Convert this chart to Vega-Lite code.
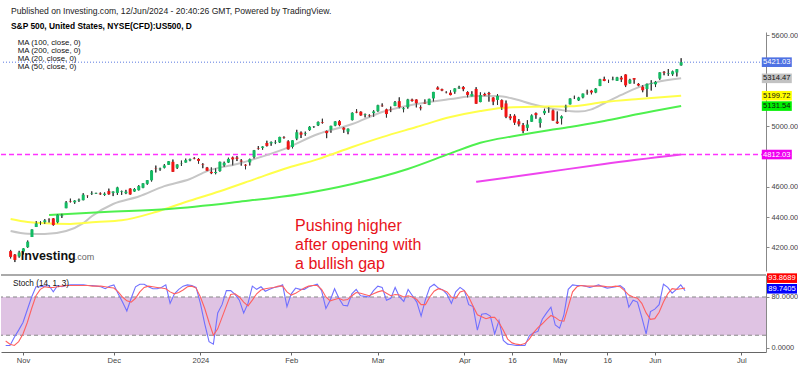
{
"$schema":"https://vega.github.io/schema/vega-lite/v6.json",
"padding":{"left":0,"top":7,"right":0,"bottom":0},
"background":"white",
"spacing":0,
"title":{"text":"Published on Investing.com, 12/Jun/2024 - 20:40:26 GMT, Powered by TradingView.","subtitle":"S&P 500, United States, NYSE(CFD):US500, D","anchor":"start","frame":"bounds","dx":11,"font":"Liberation Sans","fontSize":8.6,"fontWeight":"normal","color":"#222","subtitleFont":"Liberation Sans","subtitleFontSize":8.4,"subtitleFontWeight":"bold","subtitleColor":"#000","subtitlePadding":6,"offset":1},
"config":{"view":{"stroke":null},"font":"Liberation Sans","axis":{"domainColor":"#888","tickColor":"#888","labelColor":"#444","labelFontSize":7.4,"labelFont":"Liberation Sans","tickSize":3,"labelPadding":2,"grid":false}},
"datasets":{
"one":[{}],
"candles":[
{"i":-4,"o":4175,"h":4183,"l":4127,"c":4137},{"i":-3,"o":4152,"h":4156,"l":4103,"c":4117},{"i":-2,"o":4140,"h":4177,"l":4132,"c":4166},{"i":-1,"o":4172,"h":4194,"l":4153,"c":4193},
{"i":0,"o":4201,"h":4245,"l":4197,"c":4237},{"i":1,"o":4268,"h":4319,"l":4268,"c":4317},{"i":2,"o":4334,"h":4373,"l":4334,"c":4358},{"i":3,"o":4365,"h":4372,"l":4347,"c":4366},{"i":4,"o":4366,"h":4386,"l":4354,"c":4378},{"i":5,"o":4384,"h":4391,"l":4363,"c":4383},{"i":6,"o":4391,"h":4393,"l":4343,"c":4347},{"i":7,"o":4365,"h":4418,"l":4358,"c":4415},{"i":8,"o":4406,"h":4421,"l":4394,"c":4411},{"i":9,"o":4458,"h":4505,"l":4458,"c":4496},
{"i":10,"o":4505,"h":4521,"l":4496,"c":4502},{"i":11,"o":4497,"h":4511,"l":4487,"c":4508},{"i":12,"o":4509,"h":4521,"l":4500,"c":4514},{"i":13,"o":4511,"h":4557,"l":4510,"c":4547},{"i":14,"o":4540,"h":4542,"l":4526,"c":4538},{"i":15,"o":4553,"h":4569,"l":4546,"c":4556},{"i":16,"o":4555,"h":4560,"l":4552,"c":4559},{"i":17,"o":4555,"h":4562,"l":4546,"c":4550},{"i":18,"o":4546,"h":4562,"l":4540,"c":4554},{"i":19,"o":4571,"h":4587,"l":4547,"c":4550},
{"i":20,"o":4559,"h":4569,"l":4538,"c":4568},{"i":21,"o":4559,"h":4599,"l":4546,"c":4595},{"i":22,"o":4565,"h":4574,"l":4546,"c":4569},{"i":23,"o":4557,"h":4579,"l":4551,"c":4567},{"i":24,"o":4587,"h":4590,"l":4547,"c":4549},{"i":25,"o":4568,"h":4591,"l":4566,"c":4585},{"i":26,"o":4577,"h":4610,"l":4575,"c":4604},{"i":27,"o":4593,"h":4623,"l":4590,"c":4622},{"i":28,"o":4619,"h":4644,"l":4613,"c":4643},{"i":29,"o":4642,"h":4709,"l":4634,"c":4707},
{"i":30,"o":4722,"h":4739,"l":4694,"c":4720},{"i":31,"o":4715,"h":4725,"l":4705,"c":4719},{"i":32,"o":4725,"h":4749,"l":4721,"c":4740},{"i":33,"o":4744,"h":4769,"l":4744,"c":4768},{"i":34,"o":4764,"h":4779,"l":4697,"c":4698},{"i":35,"o":4725,"h":4748,"l":4717,"c":4746},{"i":36,"o":4753,"h":4772,"l":4737,"c":4755},{"i":37,"o":4759,"h":4785,"l":4759,"c":4775},{"i":38,"o":4774,"h":4785,"l":4768,"c":4781},{"i":39,"o":4786,"h":4794,"l":4781,"c":4783},
{"i":40,"o":4783,"h":4789,"l":4752,"c":4770},{"i":41,"o":4746,"h":4755,"l":4722,"c":4743},{"i":42,"o":4726,"h":4730,"l":4702,"c":4705},{"i":43,"o":4698,"h":4727,"l":4683,"c":4689},{"i":44,"o":4690,"h":4722,"l":4682,"c":4697},{"i":45,"o":4703,"h":4765,"l":4699,"c":4764},{"i":46,"o":4741,"h":4765,"l":4730,"c":4757},{"i":47,"o":4759,"h":4791,"l":4756,"c":4783},{"i":48,"o":4793,"h":4798,"l":4740,"c":4780},{"i":49,"o":4792,"h":4802,"l":4769,"c":4784},
{"i":50,"o":4772,"h":4782,"l":4739,"c":4766},{"i":51,"o":4745,"h":4748,"l":4715,"c":4739},{"i":52,"o":4760,"h":4785,"l":4740,"c":4781},{"i":53,"o":4796,"h":4842,"l":4785,"c":4840},{"i":54,"o":4853,"h":4868,"l":4844,"c":4850},{"i":55,"o":4856,"h":4866,"l":4844,"c":4865},{"i":56,"o":4888,"h":4903,"l":4865,"c":4869},{"i":57,"o":4886,"h":4898,"l":4870,"c":4894},{"i":58,"o":4888,"h":4906,"l":4881,"c":4891},{"i":59,"o":4892,"h":4929,"l":4888,"c":4928},
{"i":60,"o":4925,"h":4932,"l":4917,"c":4922},{"i":61,"o":4899,"h":4906,"l":4845,"c":4846},{"i":62,"o":4862,"h":4906,"l":4853,"c":4906},{"i":63,"o":4917,"h":4975,"l":4907,"c":4959},{"i":64,"o":4957,"h":4964,"l":4921,"c":4943},{"i":65,"o":4950,"h":4963,"l":4936,"c":4954},{"i":66,"o":4973,"h":4999,"l":4969,"c":4995},{"i":67,"o":4996,"h":5000,"l":4988,"c":4998},{"i":68,"o":5005,"h":5030,"l":5000,"c":5027},{"i":69,"o":5026,"h":5048,"l":5016,"c":5022},
{"i":70,"o":4967,"h":4971,"l":4920,"c":4953},{"i":71,"o":4976,"h":5002,"l":4956,"c":5001},{"i":72,"o":5003,"h":5032,"l":4999,"c":5030},{"i":73,"o":5032,"h":5039,"l":4999,"c":5006},{"i":74,"o":4989,"h":4994,"l":4955,"c":4976},{"i":75,"o":4963,"h":4984,"l":4946,"c":4982},{"i":76,"o":5039,"h":5090,"l":5037,"c":5087},{"i":77,"o":5094,"h":5111,"l":5085,"c":5089},{"i":78,"o":5094,"h":5097,"l":5068,"c":5070},{"i":79,"o":5074,"h":5082,"l":5057,"c":5078},
{"i":80,"o":5072,"h":5077,"l":5058,"c":5069},{"i":81,"o":5085,"h":5104,"l":5061,"c":5096},{"i":82,"o":5098,"h":5140,"l":5094,"c":5137},{"i":83,"o":5134,"h":5149,"l":5127,"c":5131},{"i":84,"o":5110,"h":5114,"l":5056,"c":5079},{"i":85,"o":5108,"h":5128,"l":5092,"c":5105},{"i":86,"o":5132,"h":5165,"l":5131,"c":5157},{"i":87,"o":5164,"h":5189,"l":5117,"c":5124},{"i":88,"o":5111,"h":5125,"l":5091,"c":5117},{"i":89,"o":5124,"h":5179,"l":5115,"c":5175},
{"i":90,"o":5174,"h":5180,"l":5161,"c":5165},{"i":91,"o":5175,"h":5176,"l":5123,"c":5150},{"i":92,"o":5123,"h":5136,"l":5104,"c":5117},{"i":93,"o":5154,"h":5175,"l":5146,"c":5149},{"i":94,"o":5139,"h":5180,"l":5138,"c":5179},{"i":95,"o":5182,"h":5225,"l":5161,"c":5225},{"i":96,"o":5254,"h":5261,"l":5240,"c":5241},{"i":97,"o":5243,"h":5246,"l":5230,"c":5234},{"i":98,"o":5219,"h":5229,"l":5216,"c":5218},{"i":99,"o":5220,"h":5235,"l":5203,"c":5204},
{"i":100,"o":5226,"h":5249,"l":5213,"c":5248},{"i":101,"o":5248,"h":5265,"l":5245,"c":5254},{"i":102,"o":5257,"h":5263,"l":5230,"c":5243},{"i":103,"o":5224,"h":5229,"l":5189,"c":5205},{"i":104,"o":5195,"h":5229,"l":5195,"c":5211},{"i":105,"o":5244,"h":5256,"l":5146,"c":5147},{"i":106,"o":5158,"h":5222,"l":5157,"c":5204},{"i":107,"o":5211,"h":5219,"l":5197,"c":5202},{"i":108,"o":5218,"h":5225,"l":5161,"c":5209},{"i":109,"o":5188,"h":5190,"l":5138,"c":5161},
{"i":110,"o":5172,"h":5211,"l":5139,"c":5199},{"i":111,"o":5171,"h":5175,"l":5107,"c":5123},{"i":112,"o":5149,"h":5168,"l":5052,"c":5061},{"i":113,"o":5064,"h":5079,"l":5039,"c":5051},{"i":114,"o":5068,"h":5077,"l":5007,"c":5022},{"i":115,"o":5031,"h":5046,"l":4998,"c":5011},{"i":116,"o":5006,"h":5020,"l":4953,"c":4967},{"i":117,"o":4988,"h":5038,"l":4968,"c":5010},{"i":118,"o":5028,"h":5076,"l":5028,"c":5070},{"i":119,"o":5085,"h":5089,"l":5048,"c":5072},
{"i":120,"o":5020,"h":5057,"l":4990,"c":5048},{"i":121,"o":5084,"h":5114,"l":5073,"c":5100},{"i":122,"o":5114,"h":5124,"l":5088,"c":5116},{"i":123,"o":5103,"h":5110,"l":5035,"c":5036},{"i":124,"o":5029,"h":5096,"l":5014,"c":5018},{"i":125,"o":5050,"h":5069,"l":5011,"c":5064},{"i":126,"o":5123,"h":5140,"l":5092,"c":5128},{"i":127,"o":5143,"h":5183,"l":5142,"c":5181},{"i":128,"o":5187,"h":5200,"l":5178,"c":5187},{"i":129,"o":5169,"h":5192,"l":5165,"c":5188},
{"i":130,"o":5189,"h":5214,"l":5183,"c":5214},{"i":131,"o":5225,"h":5239,"l":5207,"c":5223},{"i":132,"o":5233,"h":5238,"l":5209,"c":5221},{"i":133,"o":5221,"h":5250,"l":5217,"c":5247},{"i":134,"o":5264,"h":5311,"l":5263,"c":5308},{"i":135,"o":5310,"h":5325,"l":5296,"c":5297},{"i":136,"o":5303,"h":5305,"l":5284,"c":5303},{"i":137,"o":5306,"h":5325,"l":5302,"c":5308},{"i":138,"o":5298,"h":5324,"l":5297,"c":5321},{"i":139,"o":5319,"h":5330,"l":5290,"c":5307},
{"i":140,"o":5340,"h":5341,"l":5257,"c":5268},{"i":141,"o":5281,"h":5311,"l":5279,"c":5305},{"i":142,"o":5316,"h":5316,"l":5279,"c":5306},{"i":143,"o":5278,"h":5283,"l":5262,"c":5267},{"i":144,"o":5259,"h":5270,"l":5223,"c":5236},{"i":145,"o":5244,"h":5280,"l":5192,"c":5278},{"i":146,"o":5278,"h":5302,"l":5234,"c":5283},{"i":147,"o":5275,"h":5297,"l":5257,"c":5291},{"i":148,"o":5313,"h":5354,"l":5305,"c":5354},{"i":149,"o":5357,"h":5362,"l":5335,"c":5352},
{"i":150,"o":5343,"h":5376,"l":5331,"c":5347},{"i":151,"o":5341,"h":5365,"l":5331,"c":5361},{"i":152,"o":5353,"h":5376,"l":5327,"c":5375},{"i":153,"o":5400,"h":5447,"l":5398,"c":5421.03}
],
"ma":[
{"s":"ma20","i":-4,"v":4308},{"s":"ma20","i":0,"v":4290},{"s":"ma20","i":4,"v":4288},{"s":"ma20","i":9,"v":4308},{"s":"ma20","i":13,"v":4360},{"s":"ma20","i":15,"v":4405},{"s":"ma20","i":20,"v":4486},{"s":"ma20","i":26,"v":4535},{"s":"ma20","i":32,"v":4604},{"s":"ma20","i":38,"v":4651},{"s":"ma20","i":42,"v":4703},{"s":"ma20","i":49,"v":4749},{"s":"ma20","i":53,"v":4782},{"s":"ma20","i":60,"v":4848},{"s":"ma20","i":68,"v":4947},{"s":"ma20","i":76,"v":5013},{"s":"ma20","i":83,"v":5092},{"s":"ma20","i":91,"v":5145},{"s":"ma20","i":99,"v":5178},{"s":"ma20","i":105,"v":5198},{"s":"ma20","i":110,"v":5198},{"s":"ma20","i":114,"v":5178},{"s":"ma20","i":118,"v":5145},{"s":"ma20","i":122,"v":5119},{"s":"ma20","i":125,"v":5105},{"s":"ma20","i":129,"v":5095},{"s":"ma20","i":132,"v":5110},{"s":"ma20","i":135,"v":5150},{"s":"ma20","i":139,"v":5205},{"s":"ma20","i":143,"v":5255},{"s":"ma20","i":147,"v":5288},{"s":"ma20","i":153,"v":5314.47},
{"s":"ma50","i":-4,"v":4387},{"s":"ma50","i":0,"v":4367},{"s":"ma50","i":3,"v":4360},{"s":"ma50","i":10,"v":4354},{"s":"ma50","i":16,"v":4367},{"s":"ma50","i":22,"v":4378},{"s":"ma50","i":30,"v":4433},{"s":"ma50","i":37,"v":4499},{"s":"ma50","i":45,"v":4570},{"s":"ma50","i":53,"v":4648},{"s":"ma50","i":60,"v":4717},{"s":"ma50","i":68,"v":4782},{"s":"ma50","i":76,"v":4862},{"s":"ma50","i":83,"v":4927},{"s":"ma50","i":91,"v":4993},{"s":"ma50","i":99,"v":5059},{"s":"ma50","i":106,"v":5099},{"s":"ma50","i":111,"v":5119},{"s":"ma50","i":118,"v":5127},{"s":"ma50","i":122,"v":5128},{"s":"ma50","i":127,"v":5130},{"s":"ma50","i":135,"v":5158},{"s":"ma50","i":143,"v":5178},{"s":"ma50","i":153,"v":5199.72},
{"s":"ma100","i":5,"v":4413},{"s":"ma100","i":18,"v":4433},{"s":"ma100","i":33,"v":4453},{"s":"ma100","i":49,"v":4499},{"s":"ma100","i":64,"v":4552},{"s":"ma100","i":76,"v":4618},{"s":"ma100","i":89,"v":4717},{"s":"ma100","i":99,"v":4820},{"s":"ma100","i":106,"v":4890},{"s":"ma100","i":114,"v":4934},{"s":"ma100","i":122,"v":4972},{"s":"ma100","i":127,"v":4993},{"s":"ma100","i":135,"v":5033},{"s":"ma100","i":143,"v":5079},{"s":"ma100","i":153,"v":5131.54},
{"s":"ma200","i":105,"v":4632},{"s":"ma200","i":120,"v":4690},{"s":"ma200","i":135,"v":4750},{"s":"ma200","i":153,"v":4812.03}
],
"stoch":[
{"i":-4,"k":4,"d":11},{"i":-3,"k":4,"d":6},{"i":-2,"k":17,"d":4},{"i":-1,"k":28,"d":10},{"i":0,"k":40,"d":22},{"i":1,"k":60,"d":40},{"i":2,"k":80,"d":62},{"i":3,"k":96,"d":82},{"i":4,"k":96,"d":92},{"i":5,"k":97,"d":96},{"i":6,"k":98,"d":95},{"i":7,"k":88,"d":95},{"i":8,"k":98,"d":96},{"i":9,"k":96,"d":97},
{"i":10,"k":98,"d":98},{"i":11,"k":99,"d":98},{"i":12,"k":99,"d":98},{"i":13,"k":99,"d":98},{"i":14,"k":99,"d":98},{"i":15,"k":98,"d":98},{"i":16,"k":98,"d":97},{"i":17,"k":97,"d":97},{"i":18,"k":96,"d":97},{"i":19,"k":93,"d":96},
{"i":20,"k":97,"d":95},{"i":21,"k":99,"d":94},{"i":22,"k":85,"d":88},{"i":23,"k":72,"d":80},{"i":24,"k":58,"d":74},{"i":25,"k":78,"d":72},{"i":26,"k":96,"d":78},{"i":27,"k":100,"d":88},{"i":28,"k":100,"d":95},{"i":29,"k":96,"d":97},
{"i":30,"k":93,"d":96},{"i":31,"k":93,"d":95},{"i":32,"k":95,"d":94},{"i":33,"k":99,"d":93},{"i":34,"k":70,"d":88},{"i":35,"k":85,"d":85},{"i":36,"k":92,"d":87},{"i":37,"k":97,"d":91},{"i":38,"k":99,"d":96},{"i":39,"k":98,"d":97},
{"i":40,"k":95,"d":94},{"i":41,"k":70,"d":80},{"i":42,"k":38,"d":62},{"i":43,"k":10,"d":40},{"i":44,"k":6,"d":20},{"i":45,"k":55,"d":30},{"i":46,"k":68,"d":48},{"i":47,"k":90,"d":66},{"i":48,"k":90,"d":84},{"i":49,"k":84,"d":85},
{"i":50,"k":75,"d":80},{"i":51,"k":55,"d":72},{"i":52,"k":70,"d":66},{"i":53,"k":97,"d":75},{"i":54,"k":92,"d":85},{"i":55,"k":96,"d":91},{"i":56,"k":89,"d":93},{"i":57,"k":92,"d":94},{"i":58,"k":95,"d":95},{"i":59,"k":96,"d":97},
{"i":60,"k":99,"d":97},{"i":61,"k":65,"d":88},{"i":62,"k":85,"d":83},{"i":63,"k":94,"d":86},{"i":64,"k":92,"d":90},{"i":65,"k":92,"d":94},{"i":66,"k":96,"d":97},{"i":67,"k":98,"d":98},{"i":68,"k":100,"d":98},{"i":69,"k":90,"d":92},
{"i":70,"k":62,"d":80},{"i":71,"k":75,"d":74},{"i":72,"k":93,"d":76},{"i":73,"k":78,"d":78},{"i":74,"k":67,"d":75},{"i":75,"k":66,"d":76},{"i":76,"k":85,"d":82},{"i":77,"k":92,"d":87},{"i":78,"k":82,"d":86},{"i":79,"k":81,"d":84},
{"i":80,"k":80,"d":82},{"i":81,"k":90,"d":85},{"i":82,"k":97,"d":88},{"i":83,"k":95,"d":90},{"i":84,"k":75,"d":86},{"i":85,"k":78,"d":82},{"i":86,"k":95,"d":84},{"i":87,"k":80,"d":83},{"i":88,"k":73,"d":80},{"i":89,"k":92,"d":82},
{"i":90,"k":82,"d":80},{"i":91,"k":72,"d":76},{"i":92,"k":50,"d":68},{"i":93,"k":76,"d":68},{"i":94,"k":95,"d":80},{"i":95,"k":100,"d":89},{"i":96,"k":94,"d":93},{"i":97,"k":91,"d":91},{"i":98,"k":84,"d":88},{"i":99,"k":70,"d":80},
{"i":100,"k":88,"d":78},{"i":101,"k":95,"d":88},{"i":102,"k":90,"d":90},{"i":103,"k":68,"d":80},{"i":104,"k":65,"d":66},{"i":105,"k":28,"d":52},{"i":106,"k":53,"d":49},{"i":107,"k":54,"d":46},{"i":108,"k":50,"d":48},{"i":109,"k":22,"d":48},
{"i":110,"k":43,"d":40},{"i":111,"k":12,"d":28},{"i":112,"k":6,"d":14},{"i":113,"k":5,"d":8},{"i":114,"k":4,"d":6},{"i":115,"k":4,"d":5},{"i":116,"k":4,"d":7},{"i":117,"k":19,"d":14},{"i":118,"k":24,"d":24},{"i":119,"k":26,"d":32},
{"i":120,"k":45,"d":38},{"i":121,"k":55,"d":45},{"i":122,"k":64,"d":51},{"i":123,"k":36,"d":48},{"i":124,"k":31,"d":43},{"i":125,"k":52,"d":42},{"i":126,"k":92,"d":65},{"i":127,"k":99,"d":88},{"i":128,"k":98,"d":96},{"i":129,"k":98,"d":98},
{"i":130,"k":97,"d":97},{"i":131,"k":95,"d":97},{"i":132,"k":97,"d":97},{"i":133,"k":99,"d":97},{"i":134,"k":96,"d":97},{"i":135,"k":94,"d":96},{"i":136,"k":95,"d":96},{"i":137,"k":96,"d":97},{"i":138,"k":98,"d":96},{"i":139,"k":93,"d":90},
{"i":140,"k":64,"d":83},{"i":141,"k":75,"d":80},{"i":142,"k":72,"d":78},{"i":143,"k":48,"d":70},{"i":144,"k":22,"d":55},{"i":145,"k":57,"d":45},{"i":146,"k":61,"d":46},{"i":147,"k":68,"d":56},{"i":148,"k":100,"d":72},{"i":149,"k":95,"d":85},
{"i":150,"k":86,"d":93},{"i":151,"k":92,"d":92},{"i":152,"k":99,"d":93},{"i":153,"k":89.7405,"d":93.8689}
],
"tags":[
{"s":"close","v":5421.03},{"s":"ma20","v":5314.47},{"s":"ma50","v":5199.72},{"s":"ma100","v":5131.54},{"s":"ma200","v":4812.03}
],
"stags":[
{"s":"d","v":93.8689},{"s":"k","v":89.7405}
]
},
"vconcat":[
{
"width":765,"height":239,
"layer":[
{"data":{"name":"candles"},"mark":{"type":"rule","color":"#333","strokeWidth":1},
 "encoding":{"x":{"field":"i","type":"quantitative","scale":{"domain":[-5.08,171.7],"nice":false,"zero":false},"axis":null},
  "y":{"field":"l","type":"quantitative","title":null,"scale":{"domain":[4044,5620],"nice":false,"zero":false},"axis":{"orient":"right","values":[4200,4400,4600,5000,5600],"format":".2f","title":null}},"y2":{"field":"h"}}},
{"data":{"name":"one"},"mark":{"type":"rule","color":"#5a78e0","strokeDash":[1,2],"strokeWidth":1},
 "encoding":{"y":{"datum":5421.03,"type":"quantitative","title":null}}},
{"data":{"name":"one"},"mark":{"type":"rule","color":"#ff33ff","strokeDash":[5,3],"strokeWidth":1.5},
 "encoding":{"y":{"datum":4812.03,"type":"quantitative","title":null}}},
{"data":{"name":"ma"},"mark":{"type":"line","strokeWidth":2,"interpolate":"monotone"},
 "encoding":{"x":{"field":"i","type":"quantitative","axis":null},
  "y":{"field":"v","type":"quantitative","title":null},
  "detail":{"field":"s"},
  "stroke":{"field":"s","type":"nominal","scale":{"domain":["ma20","ma50","ma100","ma200"],"range":["#c6c6c6","#ffff4a","#4ef04e","#ee44ee"]},"legend":null}}},
{"data":{"name":"candles"},"mark":{"type":"rule","color":"#333","strokeWidth":1},
 "encoding":{"x":{"field":"i","type":"quantitative","axis":null},"y":{"field":"l","type":"quantitative","title":null},"y2":{"field":"h"}}},
{"data":{"name":"candles"},"mark":{"type":"bar","width":3},
 "encoding":{"x":{"field":"i","type":"quantitative","axis":null},"y":{"field":"o","type":"quantitative","title":null},"y2":{"field":"c"},
  "color":{"condition":{"test":"datum.c >= datum.o","value":"#13bb63"},"value":"#f01515"}}},
{"data":{"name":"one"},"mark":{"type":"text","align":"left","baseline":"top","fontSize":7.8,"lineHeight":7.8,"color":"#111","text":["MA (100, close, 0)","MA (200, close, 0)","MA (20, close, 0)","MA (50, close, 0)"]},
 "encoding":{"x":{"datum":-2.31,"type":"quantitative","axis":null},"y":{"datum":5572,"type":"quantitative","title":null}}},
{"data":{"name":"one"},"mark":{"type":"text","align":"left","baseline":"middle","fontSize":16,"lineHeight":19,"color":"#e8121a","text":["Pushing higher","after opening with","a bullish gap"]},
 "encoding":{"x":{"datum":62.6,"type":"quantitative","axis":null},"y":{"datum":4340,"type":"quantitative","title":null}}},
{"data":{"name":"one"},"mark":{"type":"text","align":"left","baseline":"alphabetic","fontSize":12.5,"fontWeight":"bold","color":"#111","text":"Investing","letterSpacing":-0.8},
 "encoding":{"x":{"datum":-1.6,"type":"quantitative","axis":null},"y":{"datum":4115,"type":"quantitative","title":null}}},
{"data":{"name":"one"},"mark":{"type":"text","align":"left","baseline":"alphabetic","fontSize":9,"color":"#666","text":".com"},
 "encoding":{"x":{"datum":11.0,"type":"quantitative","axis":null},"y":{"datum":4115,"type":"quantitative","title":null}}},
{"data":{"name":"tags"},"mark":{"type":"point","shape":"M-1,-0.32H1V0.32H-1Z","size":900,"filled":true,"opacity":1,"strokeWidth":0},
 "encoding":{"x":{"datum":175.4,"type":"quantitative","axis":null},"y":{"field":"v","type":"quantitative","title":null},
  "fill":{"field":"s","type":"nominal","scale":{"domain":["close","ma20","ma50","ma100","ma200"],"range":["#4f72e3","#c2c2c2","#ffff00","#00f000","#f000f0"]},"legend":null}}},
{"data":{"name":"tags"},"mark":{"type":"text","align":"center","baseline":"middle","fontSize":7.6},
 "encoding":{"x":{"datum":175.4,"type":"quantitative","axis":null},"y":{"field":"v","type":"quantitative","title":null},
  "text":{"field":"v","type":"quantitative","format":".2f"},
  "fill":{"condition":{"test":"datum.s=='close'||datum.s=='ma200'","value":"white"},"value":"#111"}}}
]
},
{
"width":765,"height":77,
"layer":[
{"data":{"name":"one"},"mark":{"type":"rect","color":"#dfc3e3"},
 "encoding":{"y":{"datum":20,"type":"quantitative","title":null,"scale":{"domain":[-6.3,114.5],"nice":false,"zero":false},"axis":{"orient":"right","values":[0,40,80],"format":".4f","title":null}},"y2":{"datum":80}}},
{"data":{"name":"one"},"mark":{"type":"rule","color":"#888","strokeDash":[4,3],"strokeWidth":1},"encoding":{"y":{"datum":20,"type":"quantitative","title":null}}},
{"data":{"name":"one"},"mark":{"type":"rule","color":"#888","strokeDash":[4,3],"strokeWidth":1},"encoding":{"y":{"datum":80,"type":"quantitative","title":null}}},
{"data":{"name":"one"},"mark":{"type":"rule","color":"#aaa","strokeWidth":2},"encoding":{"y":{"datum":114.5,"type":"quantitative","title":null}}},
{"data":{"name":"stoch"},"mark":{"type":"line","color":"#7070ff","strokeWidth":1.1},
 "encoding":{"x":{"field":"i","type":"quantitative","title":null,"scale":{"domain":[-5.08,171.7],"nice":false,"zero":false},
   "axis":{"orient":"bottom","values":[0,21,41,62,82,102,113,124,135,146,166],"labelExpr":"datum.value==0?'Nov':datum.value==21?'Dec':datum.value==41?'2024':datum.value==62?'Feb':datum.value==82?'Mar':datum.value==102?'Apr':datum.value==113?'16':datum.value==124?'May':datum.value==135?'16':datum.value==146?'Jun':'Jul'","domainColor":"#666","tickColor":"#666","labelFontSize":7.6,"labelPadding":1,"title":null}},
  "y":{"field":"k","type":"quantitative","title":null}}},
{"data":{"name":"stoch"},"mark":{"type":"line","color":"#ff6060","strokeWidth":1.1},
 "encoding":{"x":{"field":"i","type":"quantitative","title":null},"y":{"field":"d","type":"quantitative","title":null}}},
{"data":{"name":"one"},"mark":{"type":"text","align":"left","baseline":"middle","fontSize":8.2,"color":"#111","text":"Stoch (14, 1, 3)"},
 "encoding":{"x":{"datum":-2.31,"type":"quantitative","title":null},"y":{"datum":100.4,"type":"quantitative","title":null}}},
{"data":{"name":"stags"},"transform":[{"filter":"datum.s=='d'"}],"mark":{"type":"point","shape":"M-1,-0.32H1V0.32H-1Z","size":900,"filled":true,"opacity":1,"strokeWidth":0,"color":"#ff0000","yOffset":-10},
 "encoding":{"x":{"datum":175.4,"type":"quantitative","title":null},"y":{"field":"v","type":"quantitative","title":null}}},
{"data":{"name":"stags"},"transform":[{"filter":"datum.s=='d'"}],"mark":{"type":"text","align":"center","baseline":"middle","fontSize":7.6,"color":"white","yOffset":-10},
 "encoding":{"x":{"datum":175.4,"type":"quantitative","title":null},"y":{"field":"v","type":"quantitative","title":null},"text":{"field":"v","type":"quantitative","format":".4f"}}},
{"data":{"name":"stags"},"transform":[{"filter":"datum.s=='k'"}],"mark":{"type":"point","shape":"M-1,-0.32H1V0.32H-1Z","size":900,"filled":true,"opacity":1,"strokeWidth":0,"color":"#0000ff","yOffset":-2},
 "encoding":{"x":{"datum":175.4,"type":"quantitative","title":null},"y":{"field":"v","type":"quantitative","title":null}}},
{"data":{"name":"stags"},"transform":[{"filter":"datum.s=='k'"}],"mark":{"type":"text","align":"center","baseline":"middle","fontSize":7.6,"color":"white","yOffset":-2},
 "encoding":{"x":{"datum":175.4,"type":"quantitative","title":null},"y":{"field":"v","type":"quantitative","title":null},"text":{"field":"v","type":"quantitative","format":".4f"}}}
]
}
]
}
